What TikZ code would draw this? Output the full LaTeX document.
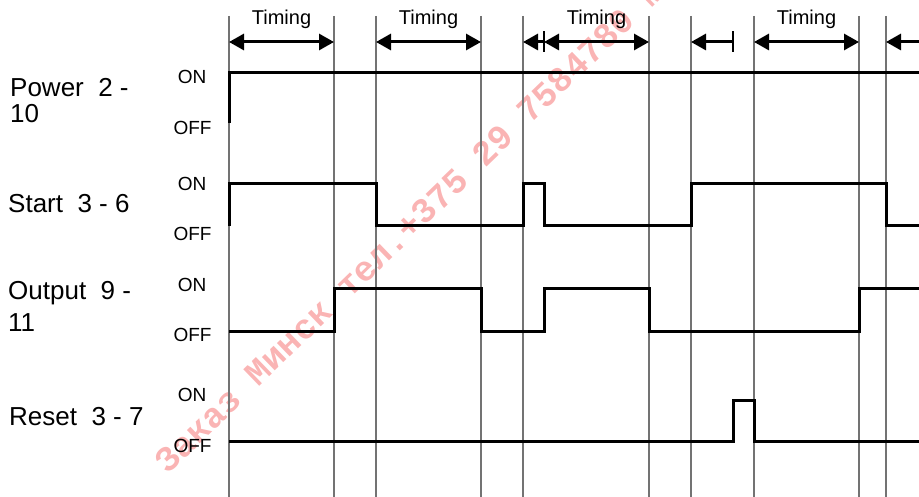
\documentclass[tikz,border=0pt]{standalone}
\usepackage{fontspec}
\setmainfont{Liberation Sans}
\newfontfamily\wmfont{Liberation Mono}
\usetikzlibrary{arrows.meta}
\definecolor{wmred}{RGB}{250,180,180}
\begin{document}
\begin{tikzpicture}[x=1bp,y=-1bp,
  gridline/.style={draw=black!55, line width=1.2bp},
  sig/.style={draw=black, line width=3bp, line join=miter},
  tri/.tip={Triangle[length=15bp,width=16bp]},
  timearrow/.style={draw=black, line width=3bp},
  tickbar/.style={draw=black, line width=1.4bp},
  timelabel/.style={inner sep=0pt, anchor=base, font=\fontsize{20bp}{24bp}\selectfont},
  state/.style={inner sep=0pt, anchor=base, font=\fontsize{19bp}{23bp}\selectfont},
  rowname/.style={inner sep=0pt, anchor=base west, font=\fontsize{26bp}{30bp}\selectfont},
  wm/.style={inner sep=0pt, anchor=base west, text=wmred, font=\wmfont\bfseries\fontsize{35bp}{40bp}\selectfont}
]
\useasboundingbox (0,0) rectangle (919,497);
% watermark
\begin{scope}
\clip (0,0) rectangle (919,497);
\node[wm, rotate=44] (mark) at (168,475) {Заказ Минск тел.+375 29 7584780 м};
\end{scope}
% grid lines
\foreach \x [count=\i] in {229,334,376,481,523,649,691,754,859,886}{
  \coordinate (t\i) at (\x,16);
  \coordinate (b\i) at (\x,497);
  \draw[gridline] (t\i) -- (b\i);
}
% timing arrows
\coordinate (a1) at (229,42); \coordinate (a2) at (334,42);
\coordinate (a3) at (376,42); \coordinate (a4) at (481,42);
\coordinate (a5) at (523,42); \coordinate (a6) at (544,42);
\coordinate (a7) at (649,42); \coordinate (a8) at (691,42);
\coordinate (a9) at (733,42); \coordinate (a10) at (754,42);
\coordinate (a11) at (859,42); \coordinate (a12) at (886,42);
\coordinate (a13) at (919,42);
\draw[timearrow, tri-tri] (a1) -- (a2);
\draw[timearrow, tri-tri] (a3) -- (a4);
\draw[timearrow, -tri] (a6) -- (a5);
\draw[timearrow, tri-tri] (a6) -- (a7);
\draw[timearrow, -tri] (a9) -- (a8);
\draw[timearrow, tri-tri] (a10) -- (a11);
\draw[timearrow, -tri] (a13) -- (a12);
\draw[tickbar] ([yshift=-10bp]a6) -- ([yshift=11bp]a6);
\draw[tickbar] ([yshift=-10bp]a9) -- ([yshift=11bp]a9);
\node[timelabel] (tl1) at (281.5,25) {Timing};
\node[timelabel] (tl2) at (428.5,25) {Timing};
\node[timelabel] (tl3) at (596.5,25) {Timing};
\node[timelabel] (tl4) at (806.5,25) {Timing};
% row names
\node[rowname] (pw1) at (10,97) {Power~~2 -};
\node[rowname] (pw2) at (10,123) {10};
\node[rowname] (st) at (8,213) {Start~~3 - 6};
\node[rowname] (op1) at (8,300) {Output~~9 -};
\node[rowname] (op2) at (8,332) {11};
\node[rowname] (rs) at (9,425) {Reset~~3 - 7};
% ON / OFF
\node[state] (pon) at (192,84) {ON};
\node[state] (poff) at (192.5,135) {OFF};
\node[state] (son) at (192,191) {ON};
\node[state] (soff) at (192.5,241) {OFF};
\node[state] (oon) at (192,292) {ON};
\node[state] (ooff) at (192.5,342) {OFF};
\node[state] (ron) at (192,401) {ON};
\node[state] (roff) at (192.5,452) {OFF};
% signals
\draw[sig] (229,123) -- (229,73) -- (919,73);
\draw[sig] (229,226) -- (229,184) -- (376,184) -- (376,226) -- (523,226) -- (523,184) -- (544,184) -- (544,226) -- (691,226) -- (691,184) -- (886,184) -- (886,226) -- (919,226);
\draw[sig] (229,331) -- (334,331) -- (334,289) -- (481,289) -- (481,331) -- (544,331) -- (544,289) -- (649,289) -- (649,331) -- (859,331) -- (859,289) -- (919,289);
\draw[sig] (229,441) -- (733,441) -- (733,400) -- (754,400) -- (754,441) -- (919,441);
\end{tikzpicture}
\end{document}
